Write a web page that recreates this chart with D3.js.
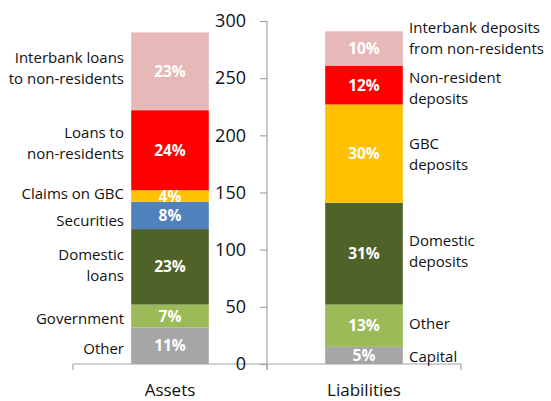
<!DOCTYPE html>
<html><head><meta charset="utf-8">
<script src="https://cdn.jsdelivr.net/npm/d3@7"></script>
<style>body{margin:0;background:#fff}svg{display:block}text{font-family:"Open Sans","Noto Sans",sans-serif}</style>
</head><body><svg id="c" width="551" height="401"></svg>
<script>
const categories = ["Assets", "Liabilities"];
const yTicks = [0, 50, 100, 150, 200, 250, 300];

const assetNames = ["Other", "Government", "Domestic\nloans", "Securities", "Claims on GBC", "Loans to\nnon-residents", "Interbank loans\nto non-residents"];
const assetValues = [32, 20, 66, 24, 10, 70, 68];
const assetPct = ["11%", "7%", "23%", "8%", "4%", "24%", "23%"];

const liabNames = ["Capital", "Other", "Domestic\ndeposits", "GBC\ndeposits", "Non-resident\ndeposits", "Interbank deposits\nfrom non-residents"];
const liabValues = [15, 37, 89, 86, 34, 30];
const liabPct = ["5%", "13%", "31%", "30%", "12%", "10%"];

const assetColors = ["#A6A6A6", "#9BBB59", "#4F6228", "#4F81BD", "#FFC000", "#FF0000", "#E6B9B8"];
const liabColors = ["#A6A6A6", "#9BBB59", "#4F6228", "#FFC000", "#FF0000", "#E6B9B8"];
const assetNudge = [3, 3, -2, 5, -2, -7, -3];
const liabNudge = [1, -2, -3, 0, 3, -10];

const svg = d3.select("#c");
const x = d3.scaleBand().domain(categories).range([73, 461]).padding(0);
const y = d3.scaleLinear().domain([0, 300]).range([364, 21]);
const bw = x.bandwidth() * 0.4;
const axisX = x("Liabilities");

function stack(vals) {
  let acc = 0;
  return vals.map(v => { const s = acc; acc += v; return [s, acc]; });
}

const groups = [
  {cat: "Assets", names: assetNames, vals: assetValues, pct: assetPct, colors: assetColors, nudge: assetNudge, side: "left"},
  {cat: "Liabilities", names: liabNames, vals: liabValues, pct: liabPct, colors: liabColors, nudge: liabNudge, side: "right"}
];

svg.append("line").attr("x1", 73).attr("x2", 461).attr("y1", y(0)).attr("y2", y(0))
  .attr("stroke", "#A6A6A6").attr("stroke-width", 1.2);
[73, axisX, 461].forEach(t => svg.append("line").attr("x1", t).attr("x2", t)
  .attr("y1", y(0)).attr("y2", y(0) + 6).attr("stroke", "#A6A6A6").attr("stroke-width", 1.2));

groups.forEach(g => {
  const st = stack(g.vals);
  const cx = x(g.cat) + x.bandwidth() / 2;
  const x0 = cx - bw / 2;
  svg.append("g").selectAll("rect").data(st).join("rect")
    .attr("x", x0).attr("width", bw)
    .attr("y", d => y(d[1])).attr("height", d => y(d[0]) - y(d[1]))
    .attr("fill", (d, i) => g.colors[i]);
  svg.append("g").selectAll("text").data(st).join("text")
    .attr("x", cx).attr("y", d => (y(d[0]) + y(d[1])) / 2).attr("dy", "0.36em")
    .attr("text-anchor", "middle").attr("fill", "#fff").attr("font-weight", "bold")
    .attr("font-size", 15.5).text((d, i) => g.pct[i]);
  st.forEach((d, i) => {
    const lines = g.names[i].split("\n");
    const cy = (y(d[0]) + y(d[1])) / 2 + g.nudge[i];
    const lh = 21;
    const lx = g.side === "left" ? 124 : 409;
    const t = svg.append("text")
      .attr("x", lx)
      .attr("text-anchor", g.side === "left" ? "end" : "start")
      .attr("font-size", 15).attr("fill", "#111");
    lines.forEach((ln, k) => {
      t.append("tspan").attr("x", lx)
        .attr("y", cy + (k - (lines.length - 1) / 2) * lh).attr("dy", "0.36em").text(ln);
    });
  });
  svg.append("text").attr("x", cx).attr("y", 396).attr("text-anchor", "middle")
    .attr("font-size", 17).attr("fill", "#111").text(g.cat);
});

const ya = svg.append("g").attr("transform", `translate(${axisX},0)`)
  .call(d3.axisLeft(y).tickValues(yTicks).tickSize(7).tickPadding(14));
ya.select(".domain").remove();
ya.selectAll(".tick line").attr("stroke", "#A6A6A6").attr("stroke-width", 1.2);
ya.selectAll(".tick text").attr("font-size", 18).attr("fill", "#111")
  .attr("font-family", "'Open Sans','Noto Sans',sans-serif");
svg.append("line").attr("x1", axisX).attr("x2", axisX).attr("y1", y(300)).attr("y2", y(0) + 6)
  .attr("stroke", "#A6A6A6").attr("stroke-width", 1.2);
</script></body></html>
